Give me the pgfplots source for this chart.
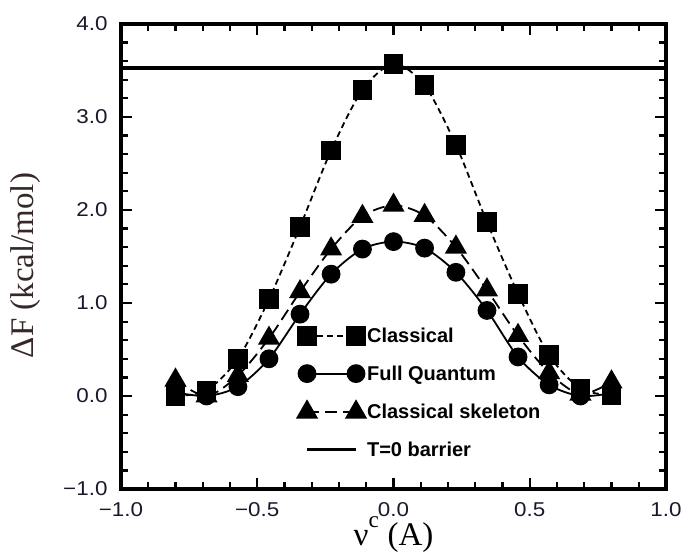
\documentclass[border=0pt]{standalone}
\usepackage{pgfplots}
\pgfplotsset{compat=1.18}
\usepackage{fontspec}
\setmainfont{Liberation Sans}
\newfontfamily\serif{Liberation Serif}
\newfontfamily\tickfont[FakeStretch=1.12]{Liberation Sans}
\definecolor{labcol}{RGB}{55,40,40}
\definecolor{tickcol}{RGB}{25,25,45}
\pgfplotstableread{
x cl fq sk
-0.8    0.00 0.04 0.17
-0.686  0.06 0.00 0.00
-0.571  0.40 0.10 0.22
-0.457  1.04 0.40 0.62
-0.343  1.82 0.88 1.12
-0.229  2.64 1.31 1.58
-0.114  3.29 1.58 1.93
0.0     3.57 1.66 2.05
0.114   3.34 1.59 1.94
0.229   2.70 1.33 1.60
0.343   1.87 0.92 1.14
0.457   1.10 0.42 0.65
0.571   0.44 0.12 0.25
0.686   0.08 0.00 0.02
0.8     0.01 0.03 0.15
}\data
\begin{document}
\begin{tikzpicture}
\begin{axis}[
  name=ax,
  scale only axis,
  width=545pt, height=465pt,
  xmin=-1, xmax=1, ymin=-1, ymax=4,
  axis line style={line width=4pt},
  tick style={line width=2.2pt, black},
  tick align=inside,
  xtick={-1,-0.5,0,0.5,1},
  xticklabels={−1.0,−0.5,0.0,0.5,1.0},
  ytick={-1,0,1,2,3,4},
  yticklabels={−1.0,0.0,1.0,2.0,3.0,4.0},
  minor xtick={-0.9,-0.8,-0.7,-0.6,-0.4,-0.3,-0.2,-0.1,0.1,0.2,0.3,0.4,0.6,0.7,0.8,0.9},
  minor ytick={-0.8,-0.6,-0.4,-0.2,0.2,0.4,0.6,0.8,1.2,1.4,1.6,1.8,2.2,2.4,2.6,2.8,3.2,3.4,3.6,3.8},
  major tick length=11pt, minor tick length=7pt,
  ticklabel style={font=\tickfont\fontsize{20}{22}\selectfont, text=tickcol},
  xticklabel style={yshift=-10pt},
  yticklabel style={xshift=-10pt},
  xlabel={{\serif ν\raisebox{0.25em}{\textsuperscript{c}} (A)}},
  ylabel={{\serif ΔF (kcal/mol)}},
  xlabel style={font=\fontsize{33}{35}\selectfont, at={(axis description cs:0.5,0)}, anchor=base, yshift=-56pt},
  ylabel style={font=\fontsize{33}{35}\selectfont, at={(axis description cs:0,0.5)}, anchor=center, yshift=95pt, xshift=-9pt, text=labcol},
  legend style={draw=none, fill=none, font=\bfseries\fontsize{20}{22}\selectfont, at={(axis description cs:0.318,0.355)}, anchor=north west, row sep=17.5pt, nodes={inner xsep=1.5pt}},
  legend cell align=left,
  legend image code/.code={\draw[mark repeat=2, mark phase=1, #1] plot coordinates {(0pt,0pt) (24.5pt,0pt) (49pt,0pt)};},
]
\addplot[black, line width=1.8pt, dash pattern=on 6pt off 4pt, smooth, tension=0.5, mark=square*, mark size=9pt, mark options={solid}] table[x=x,y=cl]{\data};
\addlegendentry{Classical}
\addplot[black, line width=1.8pt, smooth, tension=0.5, mark=*, mark size=8.5pt, mark options={solid}] table[x=x,y=fq]{\data};
\addlegendentry{Full Quantum}
\addplot[black, line width=1.8pt, dash pattern=on 12pt off 6pt, smooth, tension=0.5, mark=triangle*, mark size=11pt, mark options={solid}] table[x=x,y=sk]{\data};
\addlegendentry{Classical skeleton}
\addplot[black, line width=3.5pt, no marks] coordinates {(-1,3.527) (1,3.527)};
\addlegendentry{T=0 barrier}
\draw[line width=4pt, black] (rel axis cs:0,0) rectangle (rel axis cs:1,1);
\end{axis}
\pgfresetboundingbox
\path[use as bounding box] ([shift={(-121pt,-65pt)}]ax.south west) rectangle ([shift={(16pt,24pt)}]ax.north east);
\end{tikzpicture}
\end{document}
